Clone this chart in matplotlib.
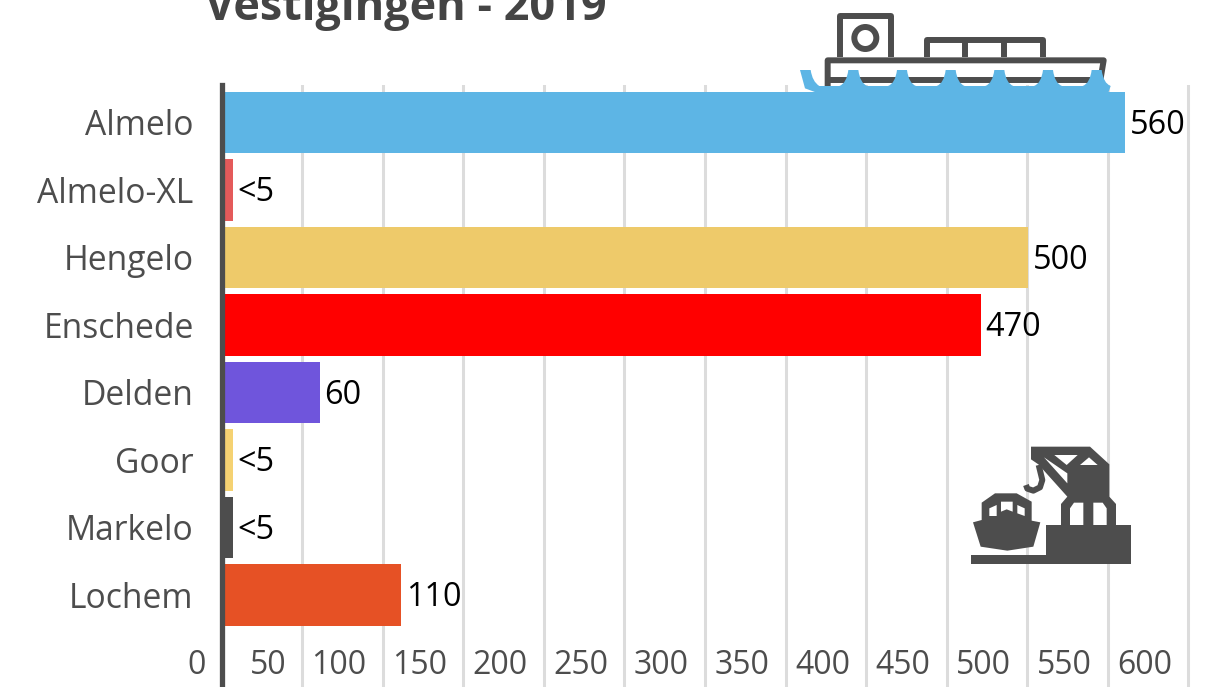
import matplotlib
matplotlib.use("Agg")
import matplotlib.pyplot as plt
from matplotlib.patches import Polygon, Circle, PathPatch
from matplotlib.path import Path
from matplotlib.transforms import ScaledTranslation

plt.rcParams["font.family"] = ["Open Sans", "DejaVu Sans"]

locations = ["Almelo", "Almelo-XL", "Hengelo", "Enschede", "Delden", "Goor", "Markelo", "Lochem"]
bar_lengths = [560.5, 7, 500.5, 471, 61, 7, 7, 111.5]
value_labels = ["560", "<5", "500", "470", "60", "<5", "<5", "110"]
bar_colors = ["#5db5e5", "#e45a5a", "#eeca6a", "#ff0000", "#6f55dc", "#f5d272", "#4d4d4d", "#e65125"]
x_ticks = list(range(0, 650, 50))

DARK = "#4d4d4d"
BLUE = "#5db5e5"

W, H = 1223, 687
fig = plt.figure(figsize=(W / 100, H / 100), dpi=100)
ax = fig.add_axes([221.5 / W, 0, (W - 221.5) / W, (H - 85) / H])

y_pos = range(len(locations))
ax.bar(x=[0] * len(locations), height=0.905, width=bar_lengths, bottom=[y - 0.4525 for y in y_pos],
       align="edge", color=bar_colors, zorder=2)

for y, length, label in zip(y_pos, bar_lengths, value_labels):
    ax.annotate(label, (length, y), xytext=(3.4, -2), textcoords="offset points",
                va="center", ha="left", fontsize=23.3, color="black", zorder=3)

ax.set_xlim(0, (W - 221.5) / 1.6116)
ax.set_ylim(8.363, -0.555)

ax.set_yticks(list(y_pos))
ax.set_yticklabels(locations, fontsize=24.2, color=DARK)
ax.tick_params(axis="y", length=0, pad=20)

# the x labels sit inside the plot, left of their gridlines
ax.set_xticks(x_ticks)
ax.set_xticklabels([str(v) for v in x_ticks], fontsize=23, color=DARK, ha="right", va="center")
ax.tick_params(axis="x", length=0, pad=0)
shift = ScaledTranslation(-16 / 100, 22 / 100, fig.dpi_scale_trans)
for lab in ax.get_xticklabels():
    lab.set_transform(lab.get_transform() + shift)

ax.grid(axis="x", color="#dcdcdc", linewidth=2.2, zorder=0)
ax.set_axisbelow(True)
for side in ["top", "right", "bottom"]:
    ax.spines[side].set_visible(False)
ax.spines["left"].set_color(DARK)
ax.spines["left"].set_linewidth(3.8)

fig.text(205 / W, 1 - 20 / H, "Vestigingen - 2019", fontsize=32.4, fontweight="bold",
         color="#444444", ha="left", va="baseline")

# overlay in pixel coordinates for the two icons
ov = fig.add_axes([0, 0, 1, 1], zorder=5)
ov.set_xlim(0, W)
ov.set_ylim(H, 0)
ov.axis("off")


def ship(x, y):
    return (780 + x / 3, y / 3)


def crane(x, y):
    return (950 + x / 3, 430 + y / 3)


def poly(points, conv, color):
    ov.add_patch(Polygon([conv(*p) for p in points], closed=True, fc=color, ec="none"))


# ship: cabin, containers, hull
lw = 4.3
for pts in [
    [(179, 172), (179, 47), (333, 47), (333, 172)],
    [(441, 172), (441, 119), (789, 119), (789, 172)],
    [(556, 119), (556, 172)],
    [(673, 119), (673, 172)],
    [(143, 258), (143, 181), (971, 181), (962, 235), (945, 262)],
    [(150, 239), (945, 239)],
]:
    xs, ys = zip(*[ship(*p) for p in pts])
    ov.plot(xs, ys, color=DARK, lw=lw, solid_joinstyle="round", solid_capstyle="butt", zorder=2)
ov.add_patch(Circle(ship(256, 114), 11, fc="none", ec=DARK, lw=lw, zorder=2))

# water in front of the hull
verts = [ship(60, 210), ship(92, 210), ship(97, 245), ship(118, 258)]
codes = [Path.MOVETO, Path.LINETO, Path.CURVE3, Path.CURVE3]
peaks = [220, 366, 512, 658, 804, 950]
for px in peaks:
    verts += [ship(px - 42, 258), ship(px - 20, 250), ship(px - 15, 210), ship(px + 15, 210),
              ship(px + 20, 250), ship(px + 42, 258)]
    codes += [Path.LINETO, Path.CURVE3, Path.CURVE3, Path.LINETO, Path.CURVE3, Path.CURVE3]
verts += [ship(985, 278), ship(110, 278), ship(75, 265), ship(60, 210)]
codes += [Path.LINETO, Path.LINETO, Path.LINETO, Path.CLOSEPOLY]
ov.add_patch(PathPatch(Path(verts, codes), fc=BLUE, ec="none", zorder=3))

# harbour crane and boat
poly([(63, 374), (288, 374), (288, 285), (543, 285), (543, 402), (63, 402)], crane, DARK)
poly([(243, 50), (420, 50), (478, 103), (478, 200), (498, 222), (498, 285), (333, 285), (333, 222),
      (352, 200), (265, 103), (243, 88)], crane, DARK)
for pts in [
    [(313, 75), (383, 75), (350, 105)],
    [(390, 105), (443, 105), (417, 82)],
    [(282, 82), (352, 130), (352, 160)],
    [(360, 285), (360, 235), (372, 218), (400, 218), (400, 285)],
    [(430, 285), (430, 218), (458, 218), (470, 235), (470, 285)],
]:
    poly(pts, crane, "white")
ov.plot(*zip(*[crane(x, y) for x, y in [(266, 105), (277, 150), (270, 172), (250, 182), (232, 176), (228, 165)]]),
        color=DARK, lw=4.3, solid_capstyle="butt", solid_joinstyle="round")

poly([(69, 277), (95, 270), (95, 218), (135, 190), (200, 190), (245, 215), (245, 272), (271, 277),
      (250, 350), (172, 362), (92, 350)], crane, DARK)
for pts in [
    [(118, 235), (140, 225), (140, 258), (118, 258)],
    [(153, 215), (188, 215), (188, 245), (170, 238), (153, 245)],
    [(202, 225), (224, 235), (224, 258), (202, 250)],
]:
    poly(pts, crane, "white")

fig.savefig("out.png", dpi=100)
